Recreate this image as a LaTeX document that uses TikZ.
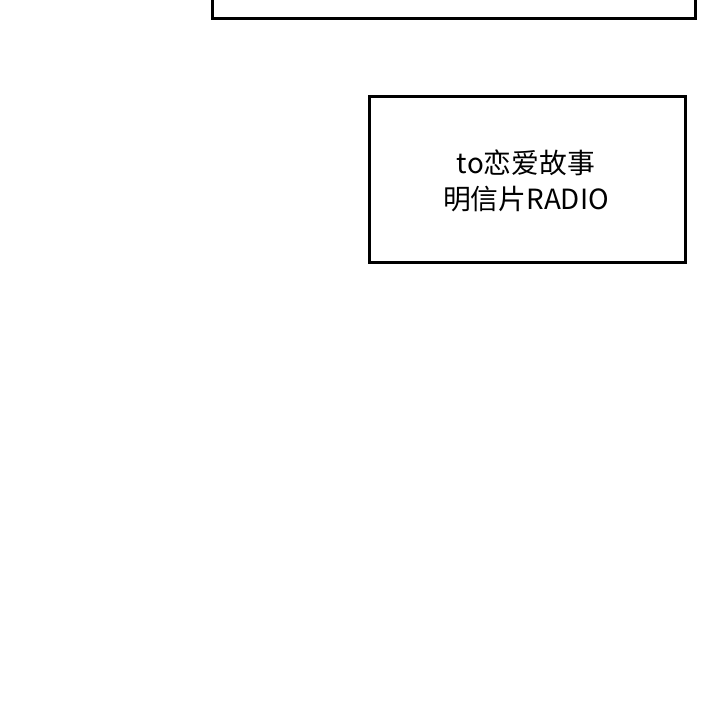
\documentclass[tikz,border=0pt]{standalone}
\usepackage{fontspec}
\newfontfamily\cjk{Noto Sans CJK SC}
\begin{document}
\begin{tikzpicture}[x=1pt,y=-1pt,
  panel/.style={draw=black,line width=3pt,fill=white},
  caption/.style={font=\cjk\fontsize{27.8pt}{36pt}\selectfont,align=center,inner sep=0pt}]
\useasboundingbox[fill=white] (0,0) rectangle (720,701);
\draw[panel] (212,-10) rectangle (695,19);
\draw[panel] (369,96) rectangle (685,262);
\node[caption] (t) at (526,181) {to恋爱故事\\明信片RADIO};
\end{tikzpicture}
\end{document}
